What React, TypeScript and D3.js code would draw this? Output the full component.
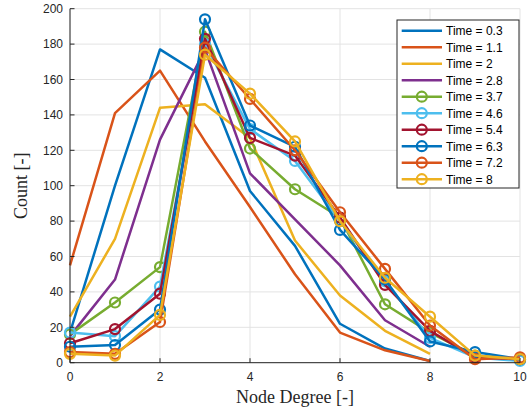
import React from "react";
import * as d3 from "d3";

const degreesFull = [0, 1, 2, 3, 4, 5, 6, 7, 8, 9, 10];
const degreesShort = [0, 1, 2, 3, 4, 5, 6, 7, 8];

const seriesLabels = ["Time = 0.3", "Time = 1.1", "Time = 2", "Time = 2.8", "Time = 3.7", "Time = 4.6", "Time = 5.4", "Time = 6.3", "Time = 7.2", "Time = 8"];

const t03 = [17, 100, 177, 161, 97, 66, 22, 8, 1];
const t11 = [55, 141, 165, 125, 88, 50, 17, 7, 1];
const t20 = [26, 70, 144, 146, 127, 69, 38, 18, 5];
const t28 = [15, 47, 126, 177, 107, 81, 55, 24, 9];
const t37 = [16, 34, 54, 187, 121, 98, 82, 33, 17, 4, 2];
const t46 = [17, 15, 43, 180, 132, 114, 80, 46, 14, 3, 1];
const t54 = [11, 19, 39, 183, 127, 117, 82, 44, 18, 3, 2];
const t63 = [9, 10, 30, 194, 134, 122, 75, 47, 12, 6, 2];
const t72 = [6, 5, 23, 178, 149, 120, 85, 53, 21, 2, 3];
const t80 = [5, 4, 27, 174, 152, 125, 80, 48, 26, 4, 2];

const xTicks = [0, 2, 4, 6, 8, 10];
const yTicks = [0, 20, 40, 60, 80, 100, 120, 140, 160, 180, 200];

const colors = ["#0072BD", "#D95319", "#EDB120", "#7E2F8E", "#77AC30", "#4DBEEE", "#A2142F", "#0072BD", "#D95319", "#EDB120"];

const allValues = [t03, t11, t20, t28, t37, t46, t54, t63, t72, t80];

export default function App() {
  const W = 530, H = 412;
  const left = 70, right = 520, top = 8.7, bottom = 362.7;
  const x = d3.scaleLinear().domain([0, 10]).range([left, right]);
  const y = d3.scaleLinear().domain([0, 200]).range([bottom, top]);
  const line = d3.line<[number, number]>().x(d => x(d[0])).y(d => y(d[1]));

  const series = allValues.map((vals, i) => {
    const xs = vals.length === 11 ? degreesFull : degreesShort;
    return { pts: vals.map((v, j) => [xs[j], v] as [number, number]), color: colors[i], markers: i >= 4, label: seriesLabels[i] };
  });

  const tickFont = "'Liberation Sans', Arial, Helvetica, sans-serif";
  const labelFont = "'Liberation Serif', 'Times New Roman', serif";

  const legX = 397, legY = 20, legW = 122, legH = 168;
  const rowH = 16.5;

  return (
    <svg width={W} height={H} style={{ position: "absolute", left: 0, top: 0 }}>
      <rect x={0} y={0} width={W} height={H} fill="#fff" />
      {/* grid */}
      {xTicks.map(t => (
        <line key={"gx" + t} x1={x(t)} x2={x(t)} y1={top} y2={bottom} stroke="#e3e3e3" strokeWidth={1} />
      ))}
      {yTicks.map(t => (
        <line key={"gy" + t} x1={left} x2={right} y1={y(t)} y2={y(t)} stroke="#e3e3e3" strokeWidth={1} />
      ))}
      {/* series */}
      {series.map((s, i) => (
        <g key={"s" + i}>
          <path d={line(s.pts) || ""} fill="none" stroke={s.color} strokeWidth={2.5} strokeLinejoin="round" />
          {s.markers && s.pts.map((p, j) => (
            <circle key={j} cx={x(p[0])} cy={y(p[1])} r={5} fill="none" stroke={s.color} strokeWidth={2.2} />
          ))}
        </g>
      ))}
      {/* axes */}
      <line x1={left} x2={left} y1={top} y2={bottom} stroke="#262626" strokeWidth={1} />
      <line x1={left} x2={right} y1={bottom} y2={bottom} stroke="#262626" strokeWidth={1} />
      {xTicks.map(t => (
        <g key={"xt" + t}>
          <line x1={x(t)} x2={x(t)} y1={bottom} y2={bottom - 4.5} stroke="#262626" />
          <text x={x(t)} y={bottom + 18} textAnchor="middle" fontFamily={tickFont} fontSize={12} fill="#262626">{t}</text>
        </g>
      ))}
      {yTicks.map(t => (
        <g key={"yt" + t}>
          <line x1={left} x2={left + 4.5} y1={y(t)} y2={y(t)} stroke="#262626" />
          <text x={left - 7} y={y(t) + 4.2} textAnchor="end" fontFamily={tickFont} fontSize={12} fill="#262626">{t}</text>
        </g>
      ))}
      <text x={(left + right) / 2} y={403} textAnchor="middle" fontFamily={labelFont} fontSize={18} fill="#262626">Node Degree [-]</text>
      <text transform={`translate(27, ${(top + bottom) / 2}) rotate(-90)`} textAnchor="middle" fontFamily={labelFont} fontSize={18} fill="#262626">Count [-]</text>
      {/* legend */}
      <rect x={legX} y={legY} width={legW} height={legH} fill="#fff" stroke="#262626" strokeWidth={1} />
      {series.map((s, i) => {
        const cy = 30.7 + i * rowH;
        return (
          <g key={"l" + i}>
            <line x1={401.7} x2={442} y1={cy} y2={cy} stroke={s.color} strokeWidth={2.5} />
            {s.markers && <circle cx={421.8} cy={cy} r={5} fill="none" stroke={s.color} strokeWidth={2.2} />}
            <text x={446} y={cy + 4.3} fontFamily={tickFont} fontSize={12} fill="#000">{s.label}</text>
          </g>
        );
      })}
    </svg>
  );
}
